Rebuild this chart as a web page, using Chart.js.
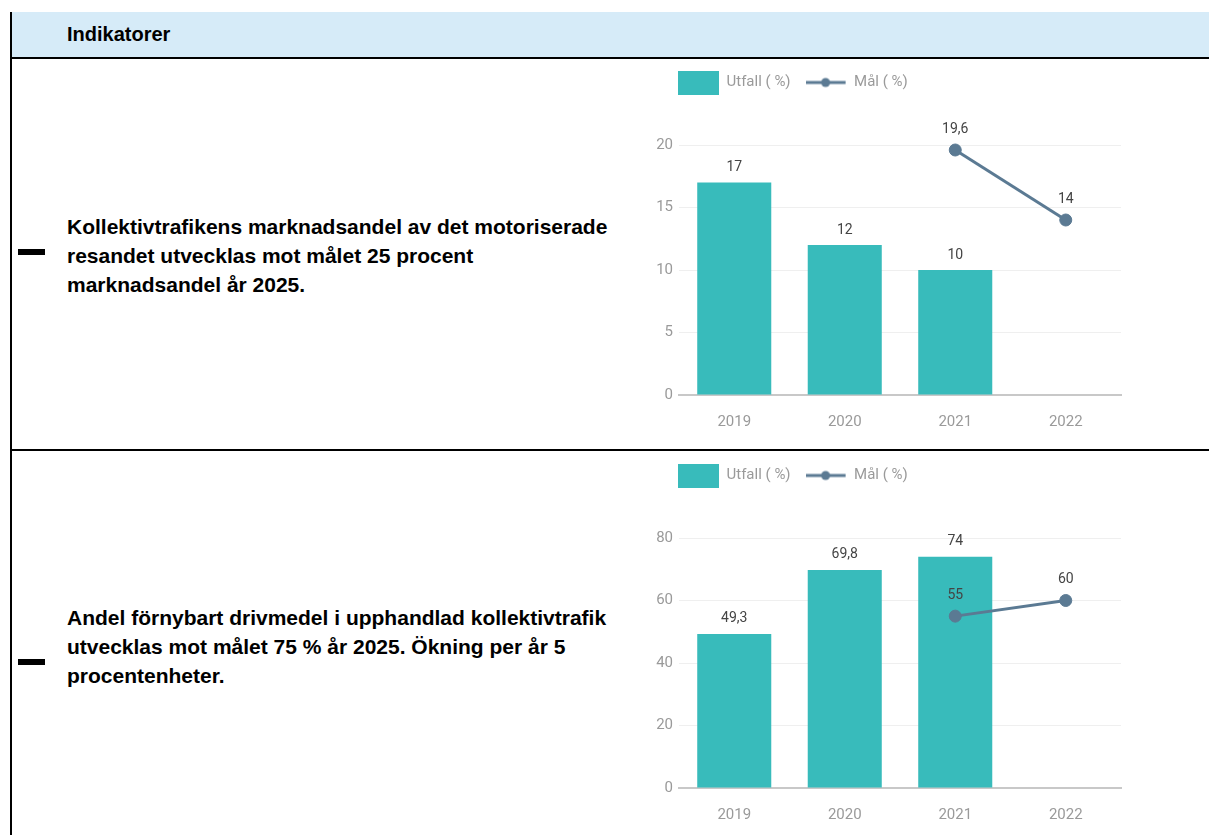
<!DOCTYPE html>
<html>
<head>
<meta charset="utf-8">
<script src="https://cdn.jsdelivr.net/npm/chart.js@4.4.1/dist/chart.umd.min.js"></script>
<style>
  body { margin: 0; width: 1209px; height: 835px; overflow: hidden; position: relative; background: #fff; font-family: "Liberation Sans", Arial, sans-serif; }
  #leftBorder { position: absolute; left: 10px; top: 12px; width: 2px; height: 823px; background: #000; }
  #header { position: absolute; left: 12px; top: 12px; width: 1197px; height: 45px; background: #d6ebf8; border-bottom: 2px solid #000; }
  #header span { position: absolute; left: 55px; top: 11px; font-weight: bold; font-size: 20px; color: #000; }
  #rowLine { position: absolute; left: 12px; top: 449px; width: 1197px; height: 2px; background: #000; }
  .desc { position: absolute; left: 67px; font-weight: bold; font-size: 21px; line-height: 29px; color: #000; white-space: nowrap; }
  .dash { position: absolute; left: 18px; width: 27px; height: 6px; background: #000; }
  .chartBox { position: absolute; left: 620px; width: 580px; height: 375px; }
</style>
</head>
<body>
<div id="leftBorder"></div>
<div id="header"><span>Indikatorer</span></div>
<div id="rowLine"></div>

<div class="dash" style="top:249px"></div>
<div class="desc" style="top:212px">Kollektivtrafikens marknadsandel av det motoriserade<br>resandet utvecklas mot målet 25 procent<br>marknadsandel år 2025.</div>

<div class="dash" style="top:659px"></div>
<div class="desc" style="top:603px">Andel förnybart drivmedel i upphandlad kollektivtrafik<br>utvecklas mot målet 75 % år 2025. Ökning per år 5<br>procentenheter.</div>

<div class="chartBox" style="top:60px"><canvas id="chart1"></canvas></div>
<div class="chartBox" style="top:453px"><canvas id="chart2"></canvas></div>

<script>
// data
const years = ['2019', '2020', '2021', '2022'];
const utfallMarknad = [17, 12, 10, null];
const malMarknad = [null, null, 19.6, 14];
const utfallFornybart = [49.3, 69.8, 74, null];
const malFornybart = [null, null, 55, 60];
const seriesNames = ['Utfall ( %)', 'Mål ( %)'];
const yMax = [20, 80];
const yStep = [5, 20];

const barColor = '#38bbbb';
const lineColor = '#5b7a93';

// legend icons
function legendIcon(kind) {
  const c = document.createElement('canvas');
  c.width = 41;
  c.height = 24;
  const g = c.getContext('2d');
  if (kind === 'bar') {
    g.fillStyle = barColor;
    g.fillRect(0, 0, 41, 24);
  } else {
    g.strokeStyle = lineColor;
    g.lineWidth = 3;
    g.beginPath();
    g.moveTo(0, 12);
    g.lineTo(40, 12);
    g.stroke();
    g.fillStyle = lineColor;
    g.beginPath();
    g.arc(20, 12, 4.5, 0, Math.PI * 2);
    g.fill();
  }
  return c;
}
const icons = [legendIcon('bar'), legendIcon('line')];

// legend height / position tweak
const legendPlace = {
  id: 'legendPlace',
  beforeInit(chart, args, opts) {
    const fit = chart.legend.fit;
    chart.legend.fit = function () {
      fit.call(this);
      this.height = opts.areaTop;
    };
  },
  afterLayout(chart, args, opts) {
    const L = chart.legend;
    L.left = opts.startX - L.options.labels.padding;
    L.right = L.left + 600;
  }
};

// value labels above bars and points
const valueLabels = {
  id: 'valueLabels',
  afterDatasetsDraw(chart) {
    const ctx = chart.ctx;
    ctx.save();
    ctx.font = '14px Roboto';
    ctx.fillStyle = '#444';
    ctx.textAlign = 'center';
    ctx.textBaseline = 'middle';
    chart.data.datasets.forEach((ds, i) => {
      const meta = chart.getDatasetMeta(i);
      meta.data.forEach((el, j) => {
        const v = ds.data[j];
        if (v === null) return;
        const off = ds.type === 'line' ? 21 : 15;
        ctx.fillText(String(v).replace('.', ','), el.x, el.y - off);
      });
    });
    ctx.restore();
  }
};

function makeChart(id, utfall, mal, max, step) {
  return new Chart(document.getElementById(id), {
    data: {
      labels: years,
      datasets: [
        {
          type: 'bar',
          label: seriesNames[0],
          data: utfall,
          backgroundColor: barColor,
          categoryPercentage: 1,
          barPercentage: 0.67,
          order: 2
        },
        {
          type: 'line',
          label: seriesNames[1],
          data: mal,
          borderColor: lineColor,
          backgroundColor: lineColor,
          borderWidth: 3,
          pointRadius: 6,
          pointBorderWidth: 1,
          pointBackgroundColor: lineColor,
          pointBorderColor: lineColor,
          clip: false,
          order: 1
        }
      ]
    },
    options: {
      responsive: true,
      maintainAspectRatio: false,
      animation: false,
      layout: { padding: { left: 14, right: 79, top: 0, bottom: 0 } },
      plugins: {
        tooltip: { enabled: false },
        legend: {
          position: 'top',
          align: 'start',
          labels: {
            usePointStyle: true,
            pointStyleWidth: 41,
            padding: 15,
            color: '#9a9a9a',
            font: { family: 'Roboto', size: 15 },
            generateLabels: () => seriesNames.map((name, i) => ({
              text: name,
              pointStyle: icons[i],
              fillStyle: i === 0 ? barColor : lineColor,
              strokeStyle: 'transparent',
              lineWidth: 0,
              hidden: false,
              datasetIndex: i,
              fontColor: '#9a9a9a'
            }))
          }
        },
        legendPlace: { areaTop: 85, startX: 58 }
      },
      scales: {
        x: {
          grid: { display: false },
          border: { color: '#c8c8c8', width: 2 },
          ticks: { color: '#9a9a9a', padding: 10, font: { family: 'Roboto', size: 15 } },
          afterFit: (scale) => { scale.height = 40; }
        },
        y: {
          min: 0,
          max: max,
          grid: { color: '#efefef', drawTicks: false },
          border: { display: false },
          ticks: { stepSize: step, color: '#9a9a9a', padding: 6, font: { family: 'Roboto', size: 15 } },
          afterFit: (scale) => { scale.width = 45; }
        }
      }
    },
    plugins: [legendPlace, valueLabels]
  });
}

makeChart('chart1', utfallMarknad, malMarknad, yMax[0], yStep[0]);
makeChart('chart2', utfallFornybart, malFornybart, yMax[1], yStep[1]);
</script>
</body>
</html>
